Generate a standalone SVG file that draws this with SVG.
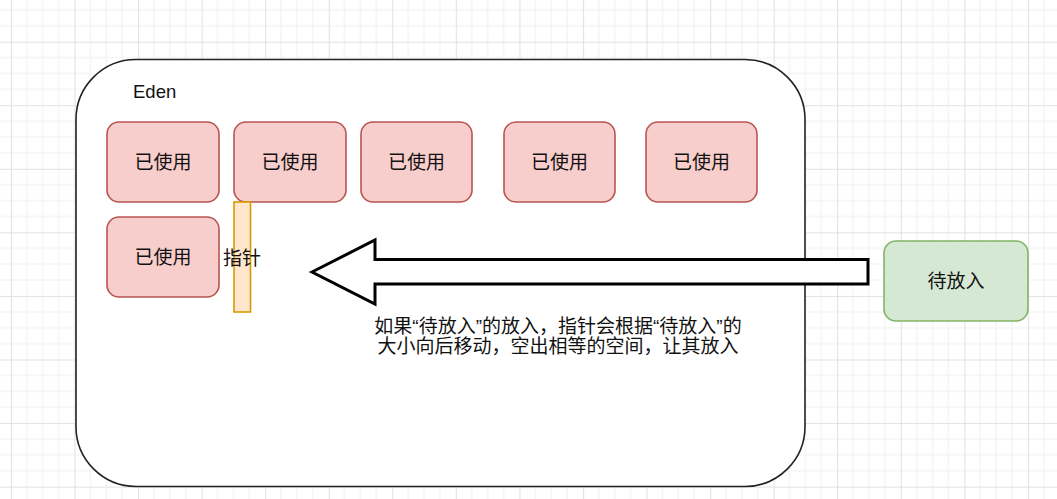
<svg xmlns="http://www.w3.org/2000/svg" width="1057" height="499" viewBox="0 0 1057 499">
<style>
.t{font-family:"Liberation Sans","Noto Sans CJK SC",sans-serif;font-size:19px;fill:#111;text-anchor:middle}
.used{fill:#f8cecc;stroke:#b85450;stroke-width:1.6}
</style>
<defs>
<pattern id="grid" x="10.9" y="41.7" width="63.56" height="63.56" patternUnits="userSpaceOnUse">
<path d="M15.89 0V63.56M31.78 0V63.56M47.67 0V63.56M0 15.89H63.56M0 31.78H63.56M0 47.67H63.56" stroke="#f0f0f0" stroke-width="1" fill="none"/>
<path d="M0.5 0V63.56M0 0.5H63.56" stroke="#e2e2e2" stroke-width="1.2" fill="none"/>
</pattern>
</defs>
<rect width="1057" height="499" fill="#fff"/>
<rect width="1057" height="499" fill="url(#grid)"/>
<g id="eden">
<rect x="76" y="59.5" width="729" height="427" rx="60" ry="60" fill="#fff" stroke="#222" stroke-width="1.6"/>
<text x="133" y="98" style="font-family:'Liberation Sans',sans-serif;font-size:18.5px;fill:#111">Eden</text>
</g>
<g id="used1"><rect class="used" x="107" y="122" width="112" height="80" rx="12"/><text class="t" x="163" y="169">已使用</text></g>
<g id="used2"><rect class="used" x="234" y="122" width="112" height="80" rx="12"/><text class="t" x="290" y="169">已使用</text></g>
<g id="used3"><rect class="used" x="361" y="122" width="111" height="80" rx="12"/><text class="t" x="416.5" y="169">已使用</text></g>
<g id="used4"><rect class="used" x="504" y="122" width="111" height="80" rx="12"/><text class="t" x="559.5" y="169">已使用</text></g>
<g id="used5"><rect class="used" x="646" y="122" width="111" height="80" rx="12"/><text class="t" x="701.5" y="169">已使用</text></g>
<g id="used6"><rect class="used" x="107" y="217" width="112" height="80" rx="12"/><text class="t" x="163" y="264">已使用</text></g>
<g id="pointer"><rect x="234" y="202" width="16.5" height="110" fill="#ffe6cc" stroke="#d79b00" stroke-width="1.6"/><text class="t" x="242" y="265">指针</text></g>
<g id="pending"><rect x="884" y="241" width="144" height="80" rx="12" fill="#d5e8d4" stroke="#82b366" stroke-width="1.6"/><text class="t" x="956" y="288">待放入</text></g>
<g id="connectors">
<polygon points="312,272 375,240 375,259.5 868,259.5 868,284 375,284 375,304" fill="#fff" stroke="#000" stroke-width="3" stroke-linejoin="miter"/>
</g>
<g id="label">
<text class="t" x="558" y="332.5">如果“待放入”的放入，指针会根据“待放入”的</text>
<text class="t" x="558" y="352.5">大小向后移动，空出相等的空间，让其放入</text>
</g>
</svg>
